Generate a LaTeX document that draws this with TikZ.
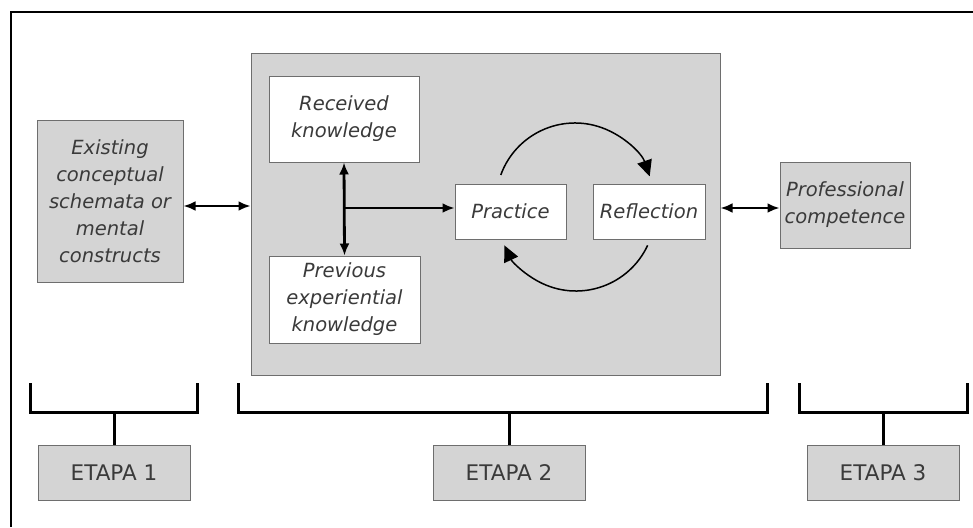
\documentclass[tikz,border=0pt]{standalone}
\usepackage{fontspec}
\setmainfont{DejaVu Sans}
\usepackage{tikz}
\usetikzlibrary{arrows.meta,calc,positioning}
\definecolor{boxgray}{HTML}{D4D4D4}
\definecolor{rimgray}{HTML}{6E6E6E}
\definecolor{txtgray}{HTML}{3A3A3A}

\begin{document}
\begin{tikzpicture}[x=1pt,y=-1pt,
  kasten/.style={draw=rimgray,line width=1pt,align=center,text=txtgray,inner sep=0pt,
                 font=\fontsize{19.5}{27}\selectfont\itshape},
  grau/.style={kasten,fill=boxgray},
  weiss/.style={kasten,fill=white},
  etappe/.style={grau,minimum width=152,minimum height=55,font=\fontsize{21.5}{24}\selectfont\upshape},
  pfeil/.style={line width=2.8pt,-{Latex[length=12pt,width=10pt]}},
  doppelpfeil/.style={line width=2.8pt,{Latex[length=12pt,width=10pt]}-{Latex[length=12pt,width=10pt]}},
  kreis/.style={line width=1.5pt,-{Triangle[length=16pt,width=15pt]}}]
\useasboundingbox (0,0) rectangle (973,527);
%Rahmen, rechts und unten abgeschnitten
\draw[line width=2.5pt] (11,527) -- (11,12) -- (973,12);
%Kaesten
\node[grau,minimum width=146,minimum height=162] (bestand) at (110,201)
  {Existing\\conceptual\\schemata or\\mental\\constructs};
\node[grau,minimum width=469,minimum height=321] (mitte) at (485.5,214.5) {};
\node[weiss,minimum width=150,minimum height=86] (erhalten) at (344,119) {Received\\knowledge};
\node[weiss,minimum width=151,minimum height=87] (erfahrung) at (344.5,299.5) {Previous\\experiential\\knowledge};
\node[weiss,minimum width=111,minimum height=55] (praxis) at (510.5,211.5) {Practice};
\node[weiss,minimum width=112,minimum height=55] (reflexion) at (649,211.5) {Reflection};
\node[grau,minimum width=130,minimum height=86] (kompetenz) at (845,205) {Professional\\competence};
%Pfeile
\draw[doppelpfeil] ($(bestand.east)+(0,5)$) -- ($(bestand.east -| mitte.west)+(0,5)$);
\draw[doppelpfeil] (erhalten.south) -- (erfahrung.north);
\draw[pfeil] (erhalten.south |- 0,208) -- (praxis.west |- 0,208);
\draw[doppelpfeil] (mitte.east |- 0,208) -- (kompetenz.west |- 0,208);
%Kreislauf Practice - Reflection
\draw[kreis] (575,202) ++(-160:79) arc[start angle=-160,end angle=-19,radius=79];
\draw[kreis] (576,212) ++(25:79) arc[start angle=25,end angle=155,radius=79];
%Etappen
\node[etappe] (etappe1) at (114,472.5) {ETAPA 1};
\node[etappe] (etappe2) at (509,472.5) {ETAPA 2};
\node[etappe] (etappe3) at (883,472.5) {ETAPA 3};
\foreach \links/\rechts/\e in {30/197/etappe1,238/767/etappe2,799/967/etappe3}{
  \draw[line width=3pt] (\links,383) -- (\links,412) -- (\rechts,412) -- (\rechts,383);
  \draw[line width=3pt] (\e.north) -- (\e.north |- 0,412);
}
\end{tikzpicture}
\end{document}
